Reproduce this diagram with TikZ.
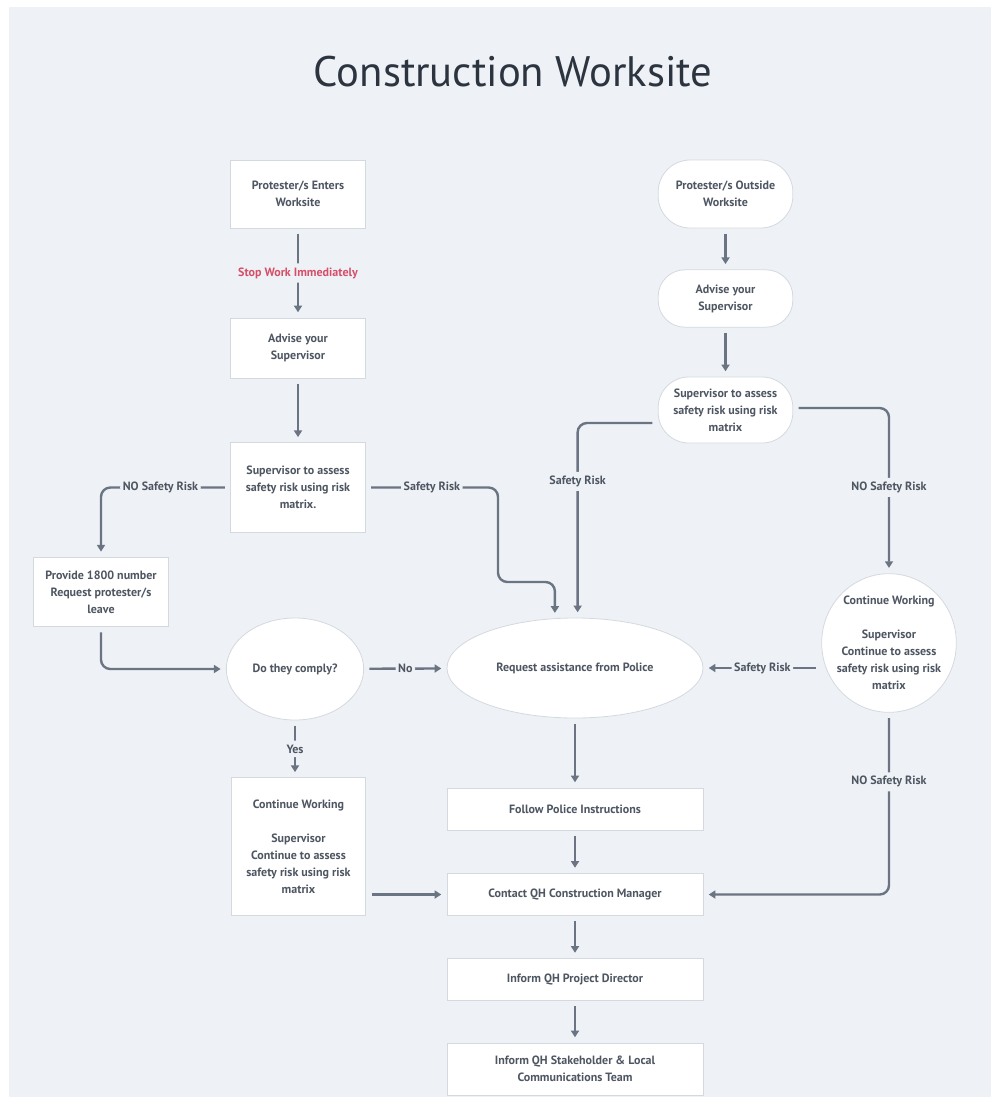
\documentclass[tikz,border=0pt]{standalone}
\usepackage{fontspec}
\setmainfont{PT Sans}
\usepackage{tikz}
\usetikzlibrary{shapes.geometric}
\usetikzlibrary{arrows.meta}

\definecolor{bg}{RGB}{238,242,246}
\definecolor{ink}{RGB}{78,86,98}
\definecolor{titleink}{RGB}{44,52,64}
\definecolor{wire}{RGB}{106,116,130}
\definecolor{rim}{RGB}{212,217,223}
\definecolor{stopred}{RGB}{214,78,104}

\begin{document}
\begin{tikzpicture}[x=0.75pt,y=-0.75pt,>={Triangle[length=5pt,width=6pt]}]

			\tikzstyle{every node}=[font=\fontsize{9}{12.75}\selectfont\bfseries,text=ink]
			\tikzstyle{box}=[draw=rim,fill=white,line width=0.6pt,align=center,minimum width=101pt,inner sep=2pt]
			\tikzstyle{wide}=[box,minimum width=192pt,minimum height=31.5pt]
			\tikzstyle{oval}=[draw=rim,fill=white,line width=0.6pt,ellipse,inner sep=0pt,align=center]
			\tikzstyle{flow}=[->,draw=wire,line width=1.8pt,rounded corners=7pt,shorten <=4pt,shorten >=4pt]
			\tikzstyle{tag}=[fill=bg,inner xsep=2pt,inner ysep=3pt]

			\useasboundingbox (0,0) rectangle (991,1097);
			\fill[white] (0,0) rectangle (991,1097);
			\fill[bg] (9,7) rectangle (991,1097);

			\node[font=\fontsize{32}{38}\selectfont,text=titleink] (title) at (513,72) {Construction Worksite};

			\node[box,minimum height=51pt] (enter) at (298,194) {Protester/s Enters\\Worksite};
			\node[box,minimum height=45pt] (adv1) at (298,348) {Advise your\\Supervisor};
			\node[box,minimum height=67pt] (sup1) at (298,487.5) {Supervisor to assess\\safety risk using risk\\matrix.};
			\node[box,minimum height=52pt] (prov) at (101,592) {Provide 1800 number\\Request protester/s\\leave};
			\node[oval,minimum width=103pt,minimum height=76.5pt] (comply) at (295,669) {Do they comply?};
			\node[box,minimum height=103pt] (cont1) at (298.5,846.5) {Continue Working\\[12.75pt]Supervisor\\Continue to assess\\safety risk using risk\\matrix};

			\node[box,minimum height=51pt,rounded corners=24pt] (outside) at (725.5,194) {Protester/s Outside\\Worksite};
			\node[box,minimum height=43pt,rounded corners=20pt] (adv2) at (725.5,298.5) {Advise your\\Supervisor};
			\node[box,minimum height=49.5pt,rounded corners=23pt] (sup2) at (725.5,410) {Supervisor to assess\\safety risk using risk\\matrix};
			\node[oval,minimum width=101pt,minimum height=104pt] (cont2) at (889,643) {};
			\node[align=center] (cont2txt) at (cont2) {Continue Working\\[12.75pt]Supervisor\\Continue to assess\\safety risk using risk\\matrix};

			\node[oval,minimum width=192pt,minimum height=75pt] (police) at (575,668) {Request assistance from Police};
			\node[wide] (follow) at (575,809) {Follow Police Instructions};
			\node[wide] (manager) at (575,894.5) {Contact QH Construction Manager};
			\node[wide] (director) at (575,979.5) {Inform QH Project Director};
			\node[wide,minimum height=39pt] (comms) at (575,1069) {Inform QH Stakeholder \& Local\\Communications Team};

			\draw[flow] (enter) -- node[tag,text=stopred] {Stop Work Immediately} (adv1);
			\draw[flow] (adv1) -- (sup1);
			\draw[flow] (sup1.west) -| node[tag,pos=0.27] {NO Safety Risk} (prov.north);
			\draw[flow] (sup1.east) -| node[tag,pos=0.25] {Safety Risk} (498,582) -| (police.112);
			\draw[flow] (prov.south) |- (comply.west);
			\draw[flow] (comply) -- node[tag] {No} (police);
			\draw[flow] (comply.south) -- node[tag] {Yes} (comply.south |- cont1.north);
			\draw[flow] (cont1.east |- manager) -- (manager.west);

			\draw[flow] (outside) -- (adv2);
			\draw[flow] (adv2) -- (sup2);
			\draw[flow] ([yshift=-9.75pt]sup2.west) -| node[tag,pos=0.65] {Safety Risk} (police.87);
			\draw[flow] ([yshift=1.5pt]sup2.east) -| node[tag,pos=0.74] {NO Safety Risk} (cont2.north);
			\draw[flow] (cont2.west |- police.east) -- node[tag] {Safety Risk} (police.east);
			\draw[flow] (cont2.south) |- node[tag,pos=0.19] {NO Safety Risk} (manager.east);

			\draw[flow] (police) -- (follow);
			\draw[flow] (follow) -- (manager);
			\draw[flow] (manager) -- (director);
			\draw[flow] (director) -- (comms);
			\end{tikzpicture}
\end{document}
